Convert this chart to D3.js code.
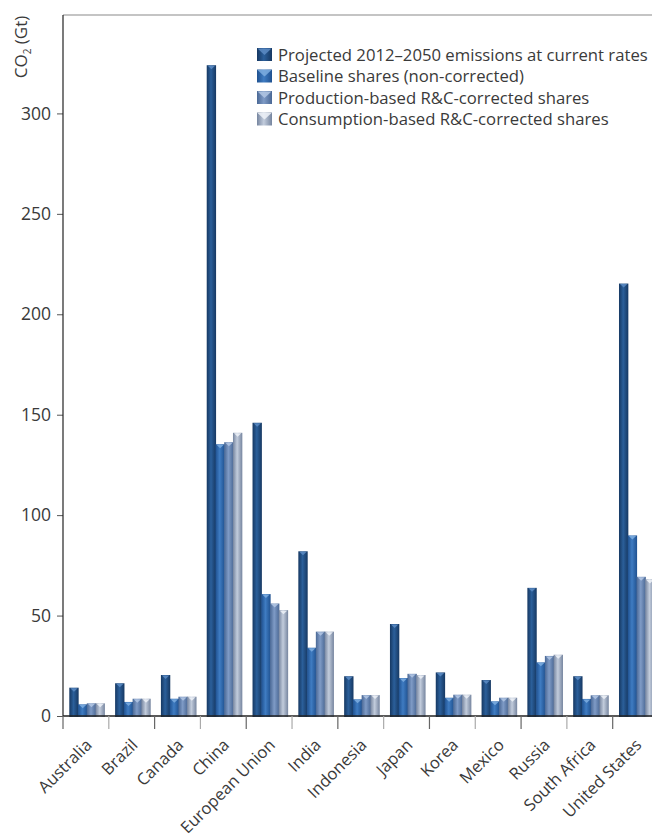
<!DOCTYPE html>
<html lang="en">
<head>
<meta charset="utf-8">
<title>Projected CO2 emissions by country</title>
<script src="https://d3js.org/d3.v7.min.js"></script>
<style>
  body { margin: 0; background: #fff; }
  svg text { font-family: "Open Sans", "DejaVu Sans", sans-serif; fill: #3a3a3a; }
</style>
</head>
<body>
<div id="chart"></div>
<script>
// data
const categories = ["Australia", "Brazil", "Canada", "China", "European Union", "India",
  "Indonesia", "Japan", "Korea", "Mexico", "Russia", "South Africa", "United States"];
const seriesNames = [
  "Projected 2012\u20132050 emissions at current rates",
  "Baseline shares (non-corrected)",
  "Production-based R&C-corrected shares",
  "Consumption-based R&C-corrected shares"
];
const projected   = [14.1, 16.3, 20.4, 324, 146, 82, 19.8, 45.8, 21.7, 17.9, 63.8, 19.8, 215.3];
const baseline    = [5.8, 7.0, 8.6, 135.3, 60.7, 34, 8.3, 18.9, 9.1, 7.3, 26.7, 8.5, 89.9];
const production  = [6.3, 8.6, 9.6, 136.3, 56, 42, 10.4, 21, 10.6, 9.1, 29.9, 10.3, 69.3];
const consumption = [6.3, 8.6, 9.6, 141, 52.7, 42, 10.4, 20.4, 10.6, 9.1, 30.5, 10.3, 68];
const yTicks = [0, 50, 100, 150, 200, 250, 300];

const seriesValues = [projected, baseline, production, consumption];

// colour stops per series: edge, centre
const palette = [
  {edge: "#163862", mid: "#2b5f9a", cap: "#5d8cc4"},
  {edge: "#1f5190", mid: "#3f7cc2", cap: "#7eaee0"},
  {edge: "#4a6895", mid: "#7f9bc6", cap: "#b3c7e4"},
  {edge: "#76859f", mid: "#c2ccdc", cap: "#eef2f8"}
];

const width = 652, height = 839;
const svg = d3.select("#chart").append("svg")
  .attr("width", width)
  .attr("height", height);

const defs = svg.append("defs");
palette.forEach((p, i) => {
  const g = defs.append("linearGradient")
    .attr("id", "grad" + i)
    .attr("x1", "0%").attr("x2", "100%").attr("y1", "0%").attr("y2", "0%");
  g.append("stop").attr("offset", "0%").attr("stop-color", p.edge);
  g.append("stop").attr("offset", "45%").attr("stop-color", p.mid);
  g.append("stop").attr("offset", "100%").attr("stop-color", p.edge);
});

const x0 = d3.scaleBand().domain(categories).range([63, 658.5]).padding(0);
const x1 = d3.scaleBand().domain(d3.range(4)).range([6.3, 41.3]).padding(0);
const y = d3.scaleLinear().domain([0, 349]).range([716, 15]);

// frame: top rule
svg.append("line")
  .attr("x1", 63).attr("x2", width)
  .attr("y1", y(349)).attr("y2", y(349))
  .attr("stroke", "#8a8a8a").attr("stroke-width", 1.2);

// bars
const groups = svg.append("g")
  .selectAll("g")
  .data(categories)
  .join("g")
  .attr("transform", d => `translate(${x0(d)},0)`);

groups.selectAll("g.bar")
  .data((d, ci) => seriesValues.map((vals, si) => ({si, v: vals[ci]})))
  .join("g")
  .attr("class", "bar")
  .each(function(d) {
    const g = d3.select(this);
    const bx = x1(d.si), bw = x1.bandwidth() + 0.6, top = y(d.v);
    g.append("rect")
      .attr("x", bx).attr("y", top)
      .attr("width", bw).attr("height", y(0) - top + 1)
      .attr("fill", `url(#grad${d.si})`);
    // small highlight cap at the top of each column
    g.append("path")
      .attr("d", `M${bx + 1},${top + 0.5} L${bx + bw - 1},${top + 0.5} L${bx + bw / 2},${top + 4} Z`)
      .attr("fill", palette[d.si].cap)
      .attr("opacity", 0.85);
  });

// y axis
const yAxis = svg.append("g")
  .attr("transform", "translate(63,0)")
  .call(d3.axisLeft(y).tickValues(yTicks).tickSize(6).tickPadding(6).tickFormat(d3.format("d")));
yAxis.select(".domain").remove();
yAxis.selectAll(".tick line").attr("stroke", "#555");
yAxis.selectAll(".tick text").style("font-size", "17.5px").attr("fill", "#3a3a3a");
svg.append("line")
  .attr("x1", 63).attr("x2", 63)
  .attr("y1", y(349)).attr("y2", y(0))
  .attr("stroke", "#222").attr("stroke-width", 1.2);

// x axis baseline and category ticks
svg.append("line")
  .attr("x1", 63).attr("x2", width)
  .attr("y1", y(0)).attr("y2", y(0))
  .attr("stroke", "#222").attr("stroke-width", 1.4);

svg.append("g")
  .selectAll("line")
  .data(categories)
  .join("line")
  .attr("x1", d => x0(d)).attr("x2", d => x0(d))
  .attr("y1", y(0)).attr("y2", y(0) + 13)
  .attr("stroke", (d, i) => i % 2 ? "#aaa" : "#666")
  .attr("stroke-width", 1.2);

svg.append("g")
  .selectAll("text")
  .data(categories)
  .join("text")
  .attr("transform", d => `translate(${x0(d) + x0.bandwidth() / 2 + 7},${y(0) + 30}) rotate(-45)`)
  .attr("text-anchor", "end")
  .style("font-size", "16.5px")
  .text(d => d);

// y axis title
const yTitle = svg.append("text")
  .attr("transform", "translate(27,47) rotate(-90)")
  .attr("text-anchor", "middle")
  .style("font-size", "17px");
yTitle.append("tspan").text("CO");
yTitle.append("tspan").attr("dy", 4).style("font-size", "10px").text("2");
yTitle.append("tspan").attr("dy", -4).text(" (Gt)");

// legend
const legend = svg.append("g").attr("transform", "translate(257,55)");
const rows = legend.selectAll("g")
  .data(seriesNames)
  .join("g")
  .attr("transform", (d, i) => `translate(0,${i * 21.5})`);

rows.append("rect")
  .attr("x", 0).attr("y", -7)
  .attr("width", 15).attr("height", 13)
  .attr("fill", (d, i) => `url(#grad${i})`);
rows.append("path")
  .attr("d", "M0.5,-6.5 L14.5,-6.5 L7.5,0 Z")
  .attr("fill", (d, i) => palette[i].cap)
  .attr("opacity", 0.85);
rows.append("text")
  .attr("x", 21).attr("y", 0)
  .attr("dy", "0.35em")
  .style("font-size", "15px")
  .text(d => d);

// fit legend text to the width seen in the figure
const first = rows.select("text").node();
const w = first.getComputedTextLength();
const fs = 15 * 370 / w;
rows.selectAll("text").style("font-size", fs + "px");
</script>
</body>
</html>
